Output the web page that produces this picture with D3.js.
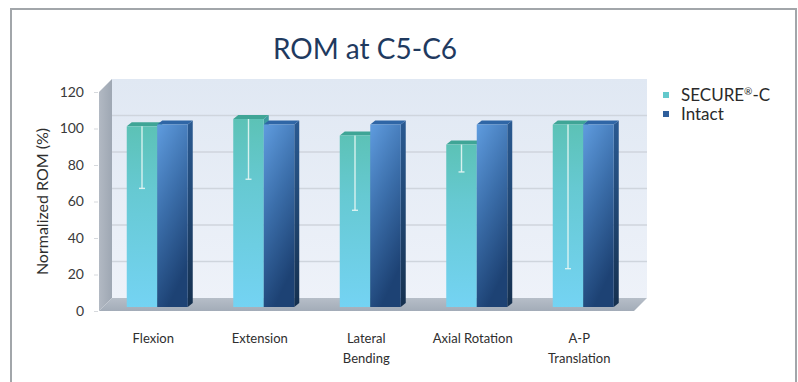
<!DOCTYPE html>
<html>
<head>
<meta charset="utf-8">
<script src="https://cdn.jsdelivr.net/npm/d3@7"></script>
<style>
  html, body { margin: 0; padding: 0; background: #ffffff; }
  svg { display: block; }
  text { font-family: Lato, "Open Sans", "Noto Sans", sans-serif; }
</style>
</head>
<body>
<svg id="chart" width="798" height="382"></svg>
<script>
// Range of motion at C5-C6, normalised to the intact spine (%)
const categories = ["Flexion", "Extension", "Lateral\nBending", "Axial Rotation", "A-P\nTranslation"];
const seriesNames = ["SECURE®-C", "Intact"];
const secureValues = [99, 103, 94, 89, 100];
const secureLower = [65, 70, 53, 74, 21];
const intactValues = [100, 100, 100, 100, 100];
const yTicks = [0, 20, 40, 60, 80, 100, 120];

const svg = d3.select("#chart");
const defs = svg.append("defs");

// outer frame
svg.append("path")
  .attr("d", "M11,390 L11,9 L796,9 L796,390")
  .attr("fill", "none").attr("stroke", "#a2a6aa").attr("stroke-width", 2);

// scales: front plane of the 3D box
const y = d3.scaleLinear().domain([0, 120]).range([311, 92]);
const x = d3.scaleBand().domain(categories).range([104, 636.5]);
const xs = d3.scaleBand().domain(seriesNames).range([0, x.bandwidth()]).paddingInner(0).paddingOuter(0.746);

const depth = { dx: 13, dy: -13 };   // wall depth
const barDepth = { dx: 5, dy: -4 };  // bar depth
const barShift = -4;                 // bars sit a little behind the front plane

const x0 = 99, x1 = 634;

// gradients
function lin(id, x1_, y1_, x2_, y2_, stops) {
  const g = defs.append("linearGradient").attr("id", id)
    .attr("x1", x1_).attr("y1", y1_).attr("x2", x2_).attr("y2", y2_);
  stops.forEach(([o, c]) => g.append("stop").attr("offset", o).attr("stop-color", c));
}
lin("wallBack", 0, 0, 0, 1, [[0, "#e0e8f3"], [1, "#eef2f9"]]);
lin("wallLeft", 0, 0, 1, 0, [[0, "#b2b9c3"], [1, "#9ea7b3"]]);
lin("floor", 0, 0, 0, 1, [[0, "#b6bec8"], [1, "#a3acb8"]]);
lin("secureFront", 0, 0, 0, 1, [[0, "#5cc2b6"], [0.35, "#66c9d2"], [1, "#74d3f3"]]);
lin("intactFront", 0, 0, 0.35, 1, [[0, "#5f9cdf"], [0.5, "#3b6eaa"], [1, "#1d4274"]]);
lin("intactSide", 0, 0, 0, 1, [[0, "#2a5a92"], [1, "#15304f"]]);

// back wall
svg.append("rect")
  .attr("x", x0 + depth.dx).attr("y", y(120) + depth.dy)
  .attr("width", x1 - x0).attr("height", y(0) - y(120))
  .attr("fill", "url(#wallBack)");

// gridlines on the back wall
svg.append("g").selectAll("line")
  .data(yTicks.filter(t => t > 0 && t < 120))
  .join("line")
  .attr("x1", x0 + depth.dx).attr("x2", x1 + depth.dx)
  .attr("y1", d => y(d) + depth.dy).attr("y2", d => y(d) + depth.dy)
  .attr("stroke", "#cfd5dd").attr("stroke-width", 1.5);

// left wall
svg.append("path")
  .attr("d", `M${x0},${y(120)} L${x0 + depth.dx},${y(120) + depth.dy} L${x0 + depth.dx},${y(0) + depth.dy} L${x0},${y(0)} Z`)
  .attr("fill", "url(#wallLeft)");

// floor
svg.append("path")
  .attr("d", `M${x0},${y(0)} L${x0 + depth.dx},${y(0) + depth.dy} L${x1 + depth.dx},${y(0) + depth.dy} L${x1},${y(0)} Z`)
  .attr("fill", "url(#floor)");

// y axis labels
const yAxis = d3.axisLeft(y).tickValues(yTicks).tickSize(4).tickPadding(8);
const gy = svg.append("g").attr("transform", `translate(${x0 - 1},0)`).call(yAxis);
gy.select(".domain").remove();
gy.selectAll(".tick line").attr("stroke", "#d6d9dd");
gy.selectAll(".tick text").attr("font-size", 14).attr("fill", "#3a3a3a").attr("dx", -2);

// y axis title
svg.append("text")
  .attr("transform", `translate(44,${(y(0) + y(120)) / 2}) rotate(-90)`)
  .attr("text-anchor", "middle").attr("dominant-baseline", "middle")
  .attr("font-size", 16).attr("fill", "#2e2e2e")
  .text("Normalized ROM (%)");

// bars
function bar3d(g, left, w, v, front, top, side, drawSide) {
  const yb = y(0) + barShift, yt = y(v) + barShift;
  if (drawSide) {
    g.append("path")
      .attr("d", `M${left + w},${yt} L${left + w + barDepth.dx},${yt + barDepth.dy} L${left + w + barDepth.dx},${yb + barDepth.dy} L${left + w},${yb} Z`)
      .attr("fill", side);
  }
  g.append("path")
    .attr("d", `M${left},${yt} L${left + barDepth.dx},${yt + barDepth.dy} L${left + w + barDepth.dx},${yt + barDepth.dy} L${left + w},${yt} Z`)
    .attr("fill", top);
  g.append("rect")
    .attr("x", left).attr("y", yt).attr("width", w).attr("height", yb - yt)
    .attr("fill", front);
}

const bars = svg.append("g");
categories.forEach((c, i) => {
  const g = bars.append("g");
  const sx = x(c) + xs(seriesNames[0]);
  const ix = x(c) + xs(seriesNames[1]);
  const w = xs.bandwidth();
  bar3d(g, sx, w, secureValues[i], "url(#secureFront)", "#3fa596", "#3b9aa0", true);
  bar3d(g, ix, w, intactValues[i], "url(#intactFront)", "#2f66a6", "url(#intactSide)", true);
  // lower error bar of the SECURE®-C series
  const cx = sx + w / 2;
  g.append("line")
    .attr("x1", cx).attr("x2", cx)
    .attr("y1", y(secureValues[i]) + barShift).attr("y2", y(secureLower[i]) + barShift)
    .attr("stroke", "#e6f6f4").attr("stroke-width", 1.4).attr("opacity", 0.9);
  g.append("line")
    .attr("x1", cx - 3).attr("x2", cx + 3)
    .attr("y1", y(secureLower[i]) + barShift).attr("y2", y(secureLower[i]) + barShift)
    .attr("stroke", "#e6f6f4").attr("stroke-width", 1.4).attr("opacity", 0.9);
});

// category labels
svg.append("g").selectAll("text")
  .data(categories)
  .join("text")
  .attr("x", d => x(d) + x.bandwidth() / 2 - 4)
  .attr("y", 343)
  .attr("text-anchor", "middle")
  .attr("font-size", 13).attr("fill", "#2e2e2e")
  .each(function (d) {
    d.split("\n").forEach((line, k) => {
      d3.select(this).append("tspan")
        .attr("x", x(d) + x.bandwidth() / 2 - 4)
        .attr("dy", k === 0 ? 0 : 20)
        .text(line);
    });
  });

// title
svg.append("text")
  .attr("x", 365).attr("y", 59)
  .attr("text-anchor", "middle")
  .attr("font-size", 28).attr("fill", "#1f3a5f")
  .text("ROM at C5-C6");

// legend (the ® mark is set as a small superscript)
const legendColors = ["#63c9cc", "#2f5f9c"];
const legend = svg.append("g");
seriesNames.forEach((s, i) => {
  const ly = 95 + i * 19;
  legend.append("rect")
    .attr("x", 663).attr("y", ly - 3).attr("width", 6).attr("height", 6)
    .attr("fill", legendColors[i]);
  const t = legend.append("text")
    .attr("x", 681).attr("y", ly + 6)
    .attr("font-size", 17).attr("fill", "#2a2a2a");
  let raised = false;
  s.split(/(®)/).filter(p => p).forEach(part => {
    if (part === "®") {
      t.append("tspan").attr("font-size", 10).attr("dy", -6).text(part);
      raised = true;
    } else {
      t.append("tspan").attr("dy", raised ? 6 : 0).text(part);
      raised = false;
    }
  });
});
</script>
</body>
</html>
